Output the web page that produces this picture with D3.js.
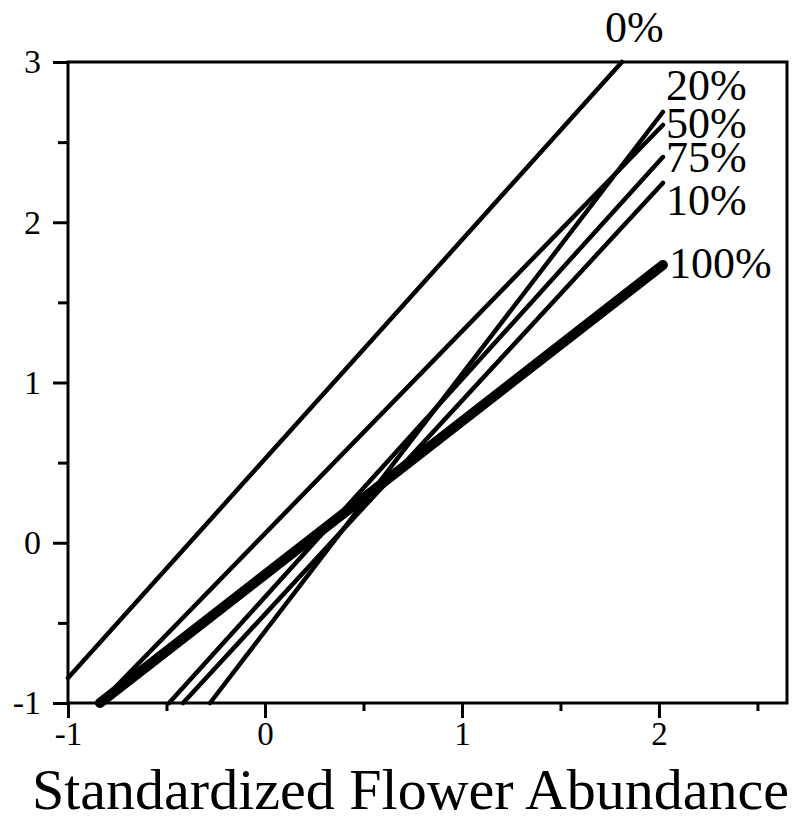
<!DOCTYPE html>
<html>
<head>
<meta charset="utf-8">
<script src="https://cdn.jsdelivr.net/npm/d3@7"></script>
<style>
  body { margin: 0; background: #fff; }
  svg { display: block; font-family: "Liberation Serif", "Times New Roman", serif; }
</style>
</head>
<body>
<div id="chart"></div>
<script>
// series: each fitted line runs from a start point to an end point
const seriesNames = ["0%", "10%", "20%", "50%", "75%", "100%"];
const xStart = [-1.0, -0.416, -0.279, -0.838, -0.487, -0.838];
const yStart = [-0.844, -1.0, -1.0, -1.0, -1.0, -1.0];
const xEnd = [1.812, 2.02, 2.02, 2.02, 2.02, 2.02];
const yEnd = [3.0, 2.245, 2.688, 2.607, 2.407, 1.733];

// where each percentage label sits, in data units
const labelX = [1.726, 2.036, 2.036, 2.036, 2.036, 2.051];
const labelY = [3.125, 2.045, 2.763, 2.526, 2.314, 1.652];

const xTicks = [-1, 0, 1, 2];
const xMinorTicks = [-0.5, 0.5, 1.5, 2.5];
const yTicks = [-1, 0, 1, 2, 3];
const yMinorTicks = [-0.5, 0.5, 1.5, 2.5];
const xTitle = "Standardized Flower Abundance";

var width = 800;
var height = 816;
var marginLeft = 68;
var marginRight = 13;
var marginTop = 62;
var marginBottom = 113;

const svg = d3.select("#chart").append("svg")
    .attr("width", width)
    .attr("height", height);

const x = d3.scaleLinear()
    .domain([-1, 2.65])
    .range([marginLeft, width - marginRight]);

const y = d3.scaleLinear()
    .domain([-1, 3])
    .range([height - marginBottom, marginTop]);

// plain hyphen for negatives, like the original
const fmt = d => String(d);

// x axis, major then minor ticks
svg.append("g")
    .attr("transform", `translate(0,${height - marginBottom})`)
    .call(d3.axisBottom(x).tickValues(xTicks).tickSize(15).tickPadding(4).tickFormat(fmt))
    .call(g => g.select(".domain").remove())
    .call(g => g.selectAll("line").attr("stroke-width", 3))
    .call(g => g.selectAll("text").attr("font-size", 33).attr("font-family", "Liberation Serif").attr("fill", "#000"));

svg.append("g")
    .attr("transform", `translate(0,${height - marginBottom})`)
    .call(d3.axisBottom(x).tickValues(xMinorTicks).tickSize(8).tickFormat(""))
    .call(g => g.select(".domain").remove())
    .call(g => g.selectAll("line").attr("stroke-width", 3));

// y axis
svg.append("g")
    .attr("transform", `translate(${marginLeft},0)`)
    .call(d3.axisLeft(y).tickValues(yTicks).tickSize(15).tickPadding(12).tickFormat(fmt))
    .call(g => g.select(".domain").remove())
    .call(g => g.selectAll("line").attr("stroke-width", 3))
    .call(g => g.selectAll("text").attr("font-size", 34).attr("font-family", "Liberation Serif").attr("fill", "#000"));

svg.append("g")
    .attr("transform", `translate(${marginLeft},0)`)
    .call(d3.axisLeft(y).tickValues(yMinorTicks).tickSize(10).tickFormat(""))
    .call(g => g.select(".domain").remove())
    .call(g => g.selectAll("line").attr("stroke-width", 3));

// frame around the plot
svg.append("rect")
    .attr("x", x(-1))
    .attr("y", y(3))
    .attr("width", x(2.65) - x(-1))
    .attr("height", y(-1) - y(3))
    .attr("fill", "none")
    .attr("stroke", "#000")
    .attr("stroke-width", 3);

// the fitted lines
const lines = seriesNames.map((name, i) => ({
    name: name,
    pts: [[xStart[i], yStart[i]], [xEnd[i], yEnd[i]]]
}));

const line = d3.line()
    .x(d => x(d[0]))
    .y(d => y(d[1]));

svg.append("g")
    .selectAll("path")
    .data(lines)
    .join("path")
        .attr("d", d => line(d.pts))
        .attr("fill", "none")
        .attr("stroke", "#000")
        .attr("stroke-width", d => d.name === "100%" ? 10 : 4.5)
        .attr("stroke-linecap", "round");

// labels at the line ends
svg.append("g")
    .selectAll("text")
    .data(seriesNames)
    .join("text")
        .attr("x", (d, i) => x(labelX[i]))
        .attr("y", (d, i) => y(labelY[i]))
        .attr("font-size", 44)
        .attr("fill", "#000")
        .text(d => d);

// x axis title
svg.append("text")
    .attr("x", 32)
    .attr("y", 809)
    .attr("font-size", 58)
    .attr("fill", "#000")
    .text(xTitle);
</script>
</body>
</html>
